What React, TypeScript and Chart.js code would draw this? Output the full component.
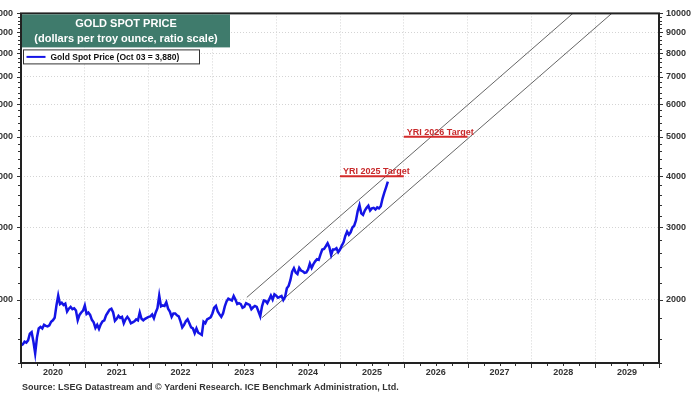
import React, { useEffect, useRef } from "react";
import { Chart, registerables } from "chart.js";

Chart.register(...registerables);

// ---- Data ----
const START_YEAR = 2020;
const POINTS_PER_YEAR = 36; // roughly every 10 days
const goldPrice: number[] = [
  // 2020
  1545, 1555, 1578, 1570, 1590, 1650, 1665, 1580, 1478, 1615, 1700, 1715,
  1700, 1735, 1725, 1720, 1730, 1765, 1780, 1805, 1935, 2045, 1950, 1965,
  1940, 1955, 1870, 1900, 1920, 1895, 1905, 1880, 1780, 1835, 1860, 1880,
  // 2021
  1935, 1845, 1860, 1835, 1785, 1760, 1705, 1735, 1695, 1740, 1770, 1780,
  1830, 1860, 1890, 1900, 1860, 1775, 1795, 1825, 1805, 1815, 1750, 1790,
  1815, 1790, 1750, 1760, 1770, 1790, 1780, 1860, 1795, 1780, 1795, 1805,
  // 2022
  1815, 1820, 1840, 1800, 1860, 1905, 2045, 1925, 1935, 1930, 1970, 1900,
  1870, 1815, 1850, 1850, 1830, 1820, 1770, 1710, 1735, 1770, 1790, 1750,
  1710, 1700, 1655, 1700, 1660, 1650, 1640, 1765, 1750, 1790, 1800, 1810,
  // 2023
  1850, 1910, 1930, 1870, 1840, 1815, 1850, 1925, 1980, 2010, 2000, 1990,
  2040, 2000, 1950, 1960, 1950, 1910, 1920, 1960, 1950, 1940, 1895, 1915,
  1930, 1920, 1870, 1820, 1925, 1990, 1985, 1960, 2000, 2045, 2000, 2060,
  // 2024
  2045, 2020, 2030, 2040, 1995, 2030, 2130, 2160, 2230, 2340, 2385, 2330,
  2310, 2390, 2355, 2345, 2325, 2330, 2370, 2450, 2390, 2440, 2480, 2510,
  2500, 2580, 2650, 2660, 2700, 2745, 2685, 2570, 2650, 2650, 2670, 2610,
  // 2025
  2650, 2710, 2760, 2860, 2930, 2880, 2920, 3000, 3030, 3120, 3290, 3400,
  3250, 3220, 3300, 3350, 3390, 3300, 3340, 3350, 3320, 3360, 3340, 3380,
  3530, 3650, 3760, 3880,
];

const yTickValues = [2000, 3000, 4000, 5000, 6000, 7000, 8000, 9000, 10000];
const yearLabels = [2020, 2021, 2022, 2023, 2024, 2025, 2026, 2027, 2028, 2029];

const channelUpperX = [2023.54, 2028.65];
const channelUpperY = [2025, 10000];
const channelLowerX = [2023.78, 2029.26];
const channelLowerY = [1807, 10000];

const targetLabels = ["YRI 2025 Target", "YRI 2026 Target"];
const targetValues = [4000, 5000];
const targetStart = [2025, 2026];
const targetEnd = [2026, 2027];

const titleLines = ["GOLD SPOT PRICE", "(dollars per troy ounce, ratio scale)"];
const legendText = "Gold Spot Price (Oct 03 = 3,880)";
const sourceText =
  "Source: LSEG Datastream and \u00A9 Yardeni Research. ICE Benchmark Administration, Ltd.";

const Y_MIN = 1400;
const Y_MAX = 10000;
const X_MIN = 2020;
const X_MAX = 2030;

const FONT = '"Liberation Sans", Arial, sans-serif';
const BLUE = "#1414e6";
const RED = "#d42a2a";

const overlayPlugin = {
  id: "overlay",
  afterDraw(chart: any) {
    const ctx = chart.ctx as CanvasRenderingContext2D;
    const a = chart.chartArea;
    const xs = chart.scales.x;
    const ys = chart.scales.y;
    ctx.save();

    // minor ticks on y axes
    ctx.strokeStyle = "#333";
    ctx.lineWidth = 1;
    for (let v = Y_MIN; v <= Y_MAX; v += 200) {
      const y = Math.round(ys.getPixelForValue(v)) + 0.5;
      const len = v % 1000 === 0 ? 4 : 3;
      ctx.beginPath();
      ctx.moveTo(a.left - len, y);
      ctx.lineTo(a.left, y);
      ctx.moveTo(a.right, y);
      ctx.lineTo(a.right + len, y);
      ctx.stroke();
    }
    // x ticks quarterly
    for (let q = X_MIN * 4; q <= X_MAX * 4; q++) {
      const v = q / 4;
      const x = Math.round(xs.getPixelForValue(v)) + 0.5;
      const len = q % 4 === 0 ? 5 : 3;
      ctx.beginPath();
      ctx.moveTo(x, a.bottom);
      ctx.lineTo(x, a.bottom + len);
      ctx.stroke();
    }

    // frame
    ctx.strokeStyle = "#222";
    ctx.lineWidth = 2;
    ctx.strokeRect(a.left, a.top, a.right - a.left, a.bottom - a.top);

    // title box
    const tbx = a.left + 1;
    const tby = a.top + 1;
    ctx.fillStyle = "#3f7b6c";
    ctx.fillRect(tbx, tby, 208, 33);
    ctx.fillStyle = "#ffffff";
    ctx.textAlign = "center";
    ctx.textBaseline = "middle";
    ctx.font = `bold 11px ${FONT}`;
    ctx.fillText(titleLines[0], tbx + 104, tby + 10);
    ctx.fillText(titleLines[1], tbx + 104, tby + 25);

    // legend box
    const lbx = a.left + 2.5;
    const lby = a.top + 36.5;
    ctx.fillStyle = "#ffffff";
    ctx.fillRect(lbx, lby, 176, 14);
    ctx.strokeStyle = "#333";
    ctx.lineWidth = 1;
    ctx.strokeRect(lbx, lby, 176, 14);
    ctx.strokeStyle = BLUE;
    ctx.lineWidth = 2;
    ctx.beginPath();
    ctx.moveTo(lbx + 3, lby + 7);
    ctx.lineTo(lbx + 22, lby + 7);
    ctx.stroke();
    ctx.fillStyle = "#111";
    ctx.textAlign = "left";
    ctx.font = `bold 8.5px ${FONT}`;
    ctx.fillText(legendText, lbx + 27, lby + 7.5);

    // targets text
    ctx.fillStyle = "#c8282a";
    ctx.font = `bold 9px ${FONT}`;
    ctx.textBaseline = "alphabetic";
    for (let i = 0; i < targetLabels.length; i++) {
      const x = xs.getPixelForValue(targetStart[i]) + 3;
      const y = ys.getPixelForValue(targetValues[i]) - 2;
      ctx.fillText(targetLabels[i], x, y);
    }

    // source
    ctx.fillStyle = "#333";
    ctx.font = `bold 9px ${FONT}`;
    ctx.textBaseline = "middle";
    ctx.fillText(sourceText, a.left + 1, 388);

    ctx.restore();
  },
};

export default function App() {
  const ref = useRef<HTMLCanvasElement | null>(null);

  useEffect(() => {
    if (!ref.current) return;
    const goldData = goldPrice.map((v, i) => ({ x: START_YEAR + i / POINTS_PER_YEAR, y: v }));
    const datasets: any[] = [
      {
        data: channelUpperX.map((x, i) => ({ x, y: channelUpperY[i] })),
        borderColor: "#666",
        borderWidth: 1,
        pointRadius: 0,
        order: 3,
      },
      {
        data: channelLowerX.map((x, i) => ({ x, y: channelLowerY[i] })),
        borderColor: "#666",
        borderWidth: 1,
        pointRadius: 0,
        order: 3,
      },
      ...targetValues.map((v, i) => ({
        data: [
          { x: targetStart[i], y: v },
          { x: targetEnd[i], y: v },
        ],
        borderColor: RED,
        borderWidth: 2,
        pointRadius: 0,
        order: 2,
      })),
      {
        data: goldData,
        borderColor: BLUE,
        borderWidth: 2.5,
        pointRadius: 0,
        tension: 0,
        order: 1,
      },
    ];

    const yTickSetter = (scale: any) => {
      scale.ticks = yTickValues.map((v) => ({ value: v }));
    };

    const chart = new Chart(ref.current, {
      type: "line",
      data: { datasets },
      plugins: [overlayPlugin],
      options: {
        responsive: false,
        animation: false,
        events: [],
        layout: { padding: { top: 13, bottom: 0, left: 0, right: 0 } },
        plugins: { legend: { display: false }, tooltip: { enabled: false } },
        scales: {
          x: {
            type: "linear",
            min: X_MIN,
            max: X_MAX,
            afterBuildTicks: (scale: any) => {
              const t: any[] = [];
              for (let i = 0; i < yearLabels.length; i++) {
                t.push({ value: yearLabels[i] });
                t.push({ value: yearLabels[i] + 0.5 });
              }
              t.push({ value: X_MAX });
              scale.ticks = t;
            },
            afterFit: (scale: any) => {
              scale.height = 36;
            },
            grid: {
              drawTicks: false,
              color: (c: any) => {
                const v = c.tick?.value;
                if (v === undefined) return "transparent";
                return Number.isInteger(v) && v > X_MIN && v < X_MAX ? "#d4d4d4" : "transparent";
              },
              lineWidth: 1,
            },
            border: { display: false, dash: [1, 2] },
            ticks: {
              autoSkip: false,
              maxRotation: 0,
              padding: 4,
              color: "#333",
              font: { family: FONT, size: 9, weight: "bold" },
              callback: (v: any) => (Number(v) % 1 === 0.5 ? String(Math.floor(Number(v))) : ""),
            },
          },
          y: {
            type: "logarithmic",
            position: "left",
            min: Y_MIN,
            max: Y_MAX,
            afterBuildTicks: yTickSetter,
            afterFit: (scale: any) => {
              scale.width = 51;
            },
            grid: {
              drawTicks: false,
              color: (c: any) => (c.tick && c.tick.value < Y_MAX ? "#d4d4d4" : "transparent"),
              lineWidth: 1,
            },
            border: { display: false, dash: [1, 2] },
            ticks: {
              autoSkip: false,
              padding: 8,
              color: "#333",
              font: { family: FONT, size: 9, weight: "bold" },
              callback: (v: any) => String(v),
            },
          },
          y2: {
            type: "logarithmic",
            position: "right",
            min: Y_MIN,
            max: Y_MAX,
            afterBuildTicks: yTickSetter,
            afterFit: (scale: any) => {
              scale.width = 41;
            },
            grid: { display: false, drawTicks: false },
            border: { display: false },
            ticks: {
              autoSkip: false,
              padding: 7,
              color: "#333",
              font: { family: FONT, size: 9, weight: "bold" },
              callback: (v: any) => String(v),
            },
          },
        },
      } as any,
    });
    return () => chart.destroy();
  }, []);

  return (
    <div style={{ position: "fixed", left: -30, top: 0, width: 730, height: 399, background: "#fff" }}>
      <canvas ref={ref} width={730} height={399} style={{ display: "block" }} />
    </div>
  );
}
